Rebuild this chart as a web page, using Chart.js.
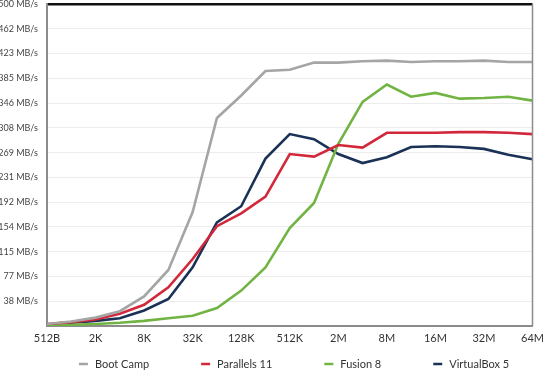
<!DOCTYPE html>
<html>
<head>
<meta charset="utf-8">
<script src="https://cdn.jsdelivr.net/npm/chart.js@4/dist/chart.umd.min.js"></script>
<style>
	html, body { margin: 0; padding: 0; background: #fff; }
	#wrap { width: 550px; height: 377px; }
</style>
</head>
<body>
<div id="wrap"><canvas id="myChart"></canvas></div>
<script>
// размеры блоков (по 2 точки на каждую подпись оси)
const blockSizes = ["512B", "1K", "2K", "4K", "8K", "16K", "32K", "64K", "128K", "256K", "512K",
	"1M", "2M", "4M", "8M", "12M", "16M", "24M", "32M", "48M", "64M"];

// скорость, MB/s
const bootCamp = [3, 7, 13, 23, 46, 87, 177, 323, 358, 396, 398, 409, 409, 411, 412, 410, 411, 411, 412, 410, 410];
const parallels11 = [3, 6, 10, 19, 33, 60, 104, 155, 175, 201, 267, 263, 281, 277, 300, 300, 300, 301, 301, 300, 298];
const fusion8 = [0.5, 2, 3, 5, 8, 12, 16, 28, 55, 91, 152, 191, 283, 348, 375, 356, 362, 353, 354, 356, 350];
const virtualBox5 = [1.5, 5, 8, 12, 24, 42, 91, 161, 186, 260, 298, 290, 267, 253, 262, 278, 279, 278, 275, 266, 259];

const FONT = "Lato, 'Open Sans', sans-serif";

// легенда внизу, с широкими промежутками
const bottomLegend = {
	id: "bottomLegend",
	afterDraw(chart) {
		const ctx = chart.ctx;
		ctx.save();
		ctx.font = "11px " + FONT;
		const items = chart.data.datasets.map((ds) => ({
			text: ds.label,
			color: ds.borderColor,
			w: 16 + ctx.measureText(ds.label).width,
		}));
		const gap = 52;
		const total = items.reduce((s, it) => s + it.w, 0) + gap * (items.length - 1);
		let x = 294 - total / 2;
		const y = 364;
		items.forEach((it) => {
			ctx.strokeStyle = it.color;
			ctx.lineWidth = 2.5;
			ctx.beginPath();
			ctx.moveTo(x, y);
			ctx.lineTo(x + 9, y);
			ctx.stroke();
			ctx.fillStyle = "#333";
			ctx.textBaseline = "middle";
			ctx.fillText(it.text, x + 16, y);
			x += it.w + gap;
		});
		ctx.restore();
	},
};

// правая граница рамки
const rightFrame = {
	id: "rightFrame",
	afterDraw(chart) {
		const { ctx, chartArea } = chart;
		ctx.save();
		ctx.strokeStyle = "#8c8c8c";
		ctx.lineWidth = 1.5;
		ctx.beginPath();
		ctx.moveTo(chartArea.right, chartArea.top);
		ctx.lineTo(chartArea.right, chartArea.bottom);
		ctx.stroke();
		ctx.restore();
	},
};

function line(label, data, color) {
	return {
		label: label,
		data: data,
		borderColor: color,
		backgroundColor: color,
		borderWidth: 2.6,
		pointRadius: 0,
		tension: 0,
	};
}

const ctx = document.getElementById("myChart");
new Chart(ctx, {
	type: "line",
	data: {
		labels: blockSizes,
		datasets: [
			line("Boot Camp", bootCamp, "#a5a5a5"),
			line("Parallels 11", parallels11, "#d2283b"),
			line("Fusion 8", fusion8, "#72b443"),
			line("VirtualBox 5", virtualBox5, "#1b3256"),
		],
	},
	options: {
		responsive: true,
		maintainAspectRatio: false,
		animation: false,
		layout: { padding: { top: 4, right: 16, bottom: 29, left: 0 } },
		plugins: {
			legend: { display: false },
			tooltip: { enabled: false },
		},
		scales: {
			x: {
				grid: { display: false, drawTicks: false },
				border: { color: "#8c8c8c", width: 2 },
				ticks: {
					autoSkip: false,
					maxRotation: 0,
					padding: 6,
					color: "#333",
					font: { family: FONT, size: 11 },
					callback: (val, i) => (i % 2 === 0 ? blockSizes[i] : ""),
				},
				afterFit(scale) {
					scale.height = 22;
				},
			},
			y: {
				min: 0,
				max: 500,
				grid: {
					drawTicks: false,
					color: (c) => (c.tick && c.tick.value === 500 ? "#111" : "#ececec"),
					lineWidth: (c) => (c.tick && c.tick.value === 500 ? 2.5 : 1),
				},
				border: { color: "#8c8c8c", width: 2 },
				ticks: {
					count: 14,
					padding: 9,
					color: "#444",
					font: { family: FONT, size: 9 },
					callback: (v) => (v === 0 ? "" : Math.round(v) + " MB/s"),
				},
				afterFit(scale) {
					scale.width = 47;
					scale.paddingTop = 0;
					scale.paddingBottom = 0;
				},
			},
		},
	},
	plugins: [bottomLegend, rightFrame],
});
</script>
</body>
</html>
